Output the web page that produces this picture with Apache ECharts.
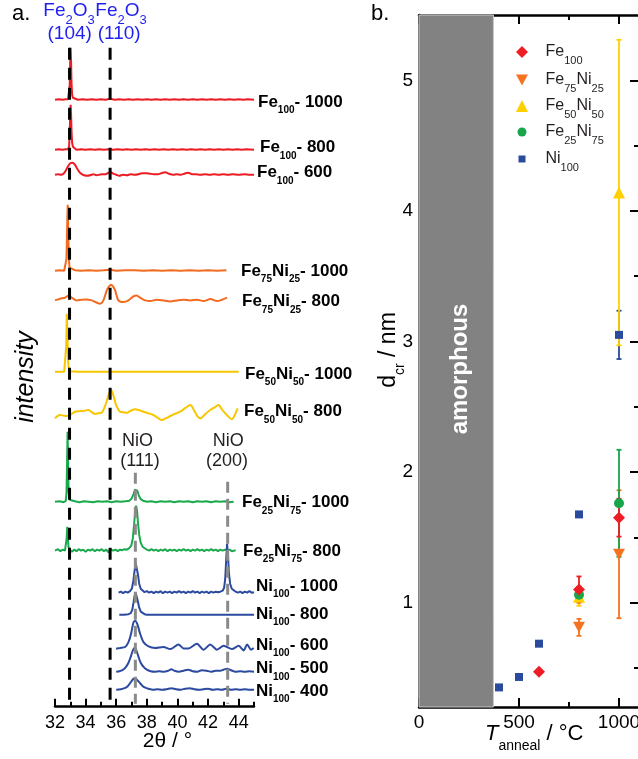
<!DOCTYPE html>
<html>
<head>
<meta charset="utf-8">
<script src="https://cdn.jsdelivr.net/npm/echarts@6/dist/echarts.min.js"></script>
<style>
  html, body { margin: 0; padding: 0; background: #fff; }
  #chart { width: 638px; height: 759px; }
</style>
</head>
<body>
<div id="chart"></div>
<script>
const FONT = '"Liberation Sans", Arial, Helvetica, sans-serif';

// ---------------- Panel a: XRD patterns, [2θ (°), intensity above own baseline] ----------------
const fe100_1000 = [[32.0,0],[32.25,0.5],[32.5,0],[32.7,0.5],[32.85,0.5],[32.92,2],[32.96,14],[32.99,36],[33.02,52],[33.05,38],[33.08,16],[33.12,5],[33.17,2],[33.25,0.5],[33.5,0],[33.8,0.5],[34.1,0],[34.4,0.5],[34.7,0],[35.0,0.5],[35.3,0],[35.6,1],[35.9,0],[36.2,0.5],[36.5,0],[36.8,0.5],[37.1,0],[37.4,0.5],[37.7,0],[38.0,0.5],[38.3,0],[38.6,0.5],[38.9,0],[39.2,0.5],[39.5,0],[39.8,0.5],[40.1,0],[40.4,0.5],[40.7,0],[41.0,0.5],[41.3,0],[41.6,0.5],[41.9,0],[42.2,0.5],[42.5,0],[42.8,0.5],[43.1,0],[43.4,0.5],[43.7,0],[44.0,0.5],[44.3,0],[44.6,0.5],[45.0,0]];
const fe100_800 = [[32.0,0],[32.25,0.5],[32.5,0],[32.7,0.5],[32.85,0.5],[32.92,3],[32.96,16],[32.99,34],[33.02,45],[33.05,36],[33.08,18],[33.12,7],[33.17,3],[33.25,1],[33.4,0],[33.7,0.5],[34.0,0],[34.3,0.5],[34.6,0],[34.9,0.5],[35.2,0],[35.5,0.5],[35.8,0],[36.1,0.5],[36.4,0],[36.7,0.5],[37.0,0],[37.3,0.5],[37.6,0],[37.9,0.5],[38.2,0],[38.5,0.5],[38.8,0],[39.1,0.5],[39.4,0],[39.7,0.5],[40.0,0],[40.3,0.5],[40.6,0],[40.9,0.5],[41.2,0],[41.5,0.5],[41.8,0],[42.1,0.5],[42.4,0],[42.7,0.5],[43.0,0],[43.3,0.5],[43.6,0],[43.9,0.5],[44.2,0],[44.5,0.5],[45.0,0]];
const fe100_600 = [[32.0,0],[32.2,0.5],[32.4,0],[32.55,1],[32.7,4],[32.85,8.5],[33.0,11.5],[33.15,12],[33.3,10],[33.45,6],[33.6,2.5],[33.75,0.5],[33.9,-0.5],[34.1,-1],[34.3,-0.5],[34.5,0.5],[34.7,-0.5],[34.9,0],[35.1,0.5],[35.3,0.5],[35.5,2],[35.65,2.5],[35.8,1],[36.0,0],[36.2,-1],[36.45,0],[36.7,-0.5],[36.95,0.5],[37.2,0],[37.45,0.5],[37.7,1.5],[37.95,1.5],[38.2,1],[38.45,0.5],[38.7,0.5],[38.95,1.5],[39.2,2.5],[39.45,1],[39.7,0],[39.95,0.5],[40.2,0],[40.45,1],[40.7,2],[40.95,0.5],[41.2,0.5],[41.5,0],[41.8,0.5],[42.1,0],[42.4,0.5],[42.7,0],[43.0,0.5],[43.3,0],[43.6,0.5],[44.0,0],[44.4,0.5],[44.7,0],[45.0,0]];
const fe75ni25_1000 = [[32.0,0],[32.3,0.5],[32.6,0],[32.7,1],[32.75,12],[32.79,42],[32.83,66],[32.86,44],[32.9,12],[32.95,3],[33.05,1],[33.3,0.5],[33.7,0],[34.2,0.5],[34.7,0],[35.2,0.5],[35.6,1],[36.0,0],[36.6,0.5],[37.2,0.5],[37.8,0],[38.4,0.5],[39.0,0],[39.6,0.5],[40.2,0],[40.8,0.5],[41.4,0],[42.0,0.5],[42.6,0],[43.2,0.5]];
const fe75ni25_800 = [[32.0,-1.7],[32.33,0],[32.65,1],[32.87,3],[33.09,1],[33.42,-1.7],[33.75,-1],[34.07,-0.7],[34.4,-1.7],[34.73,-4],[34.95,-5],[35.16,-1.7],[35.38,8.3],[35.52,12],[35.66,14],[35.8,12],[35.93,8.3],[36.14,-1.7],[36.47,-3.4],[36.8,-1.7],[37.12,2.3],[37.34,3.3],[37.56,1],[37.89,-1.7],[38.21,-2.4],[38.65,-1],[39.09,-1.7],[39.53,-2.7],[39.97,-1.7],[40.4,-1],[40.84,-1.7],[41.28,-1],[41.71,-2.4],[42.15,-0.4],[42.59,-2.4],[42.91,-1],[43.24,1]];
const fe50ni50_1000 = [[32.0,0],[32.3,0],[32.6,0],[32.68,2],[32.73,25],[32.77,58],[32.81,40],[32.85,12],[32.9,3],[32.97,0.5],[33.1,0],[33.5,0],[34.5,0],[35.5,0],[36.5,0],[37.5,0],[38.5,0],[39.5,0],[40.5,0],[41.5,0],[42.5,0],[43.5,0],[44.0,0]];
const fe50ni50_800 = [[32.0,-1.7],[32.33,1.7],[32.6,1],[32.87,0.7],[33.1,3],[33.31,5],[33.6,5.5],[33.9,6],[34.18,6.7],[34.4,4.5],[34.62,2.7],[34.85,3.5],[35.05,4],[35.2,8],[35.34,13.7],[35.5,22],[35.66,26.7],[35.82,21],[35.99,11.7],[36.25,5],[36.45,4.5],[36.69,4],[36.95,6],[37.24,7.4],[37.5,6.5],[37.78,5],[38.1,3.5],[38.43,1.7],[38.7,-1],[38.98,-3.3],[39.25,-1.5],[39.53,0.7],[39.85,3],[40.18,5],[40.5,8.5],[40.83,11.7],[41.1,6],[41.3,0.5],[41.49,-1.7],[41.8,2.5],[42.14,6.7],[42.45,9.5],[42.69,11.7],[42.85,8.5],[43.02,5],[43.3,0.5],[43.56,-2.6],[43.75,2],[43.93,8.4]];
const fe25ni75_1000 = [[32.0,0],[32.3,0.5],[32.55,-0.5],[32.7,0.5],[32.75,8],[32.79,40],[32.82,70],[32.85,45],[32.89,10],[32.95,2],[33.05,0],[33.3,0.5],[33.6,-0.5],[33.9,0.5],[34.2,0],[34.5,-0.5],[34.8,0.5],[35.1,0],[35.4,0.5],[35.7,-0.5],[36.0,0.5],[36.3,0],[36.6,0.5],[36.85,1],[37.0,3],[37.12,7],[37.22,12],[37.3,14],[37.38,11],[37.48,6],[37.6,2.5],[37.75,1],[38.0,0],[38.3,0.5],[38.6,-0.5],[38.9,0.5],[39.2,0],[39.5,0.5],[39.8,-0.5],[40.1,0.5],[40.4,0],[40.7,0.5],[41.0,-0.5],[41.3,0.5],[41.6,0],[41.9,0.5],[42.2,-0.5],[42.5,0.5],[42.8,0],[43.1,0.5],[43.4,-0.5],[43.67,0]];
const fe25ni75_800 = [[32.0,0],[32.2,1.5],[32.35,-0.5],[32.5,1],[32.65,0],[32.72,2],[32.76,12],[32.8,24],[32.84,14],[32.88,4],[32.95,1],[33.1,-1],[33.25,1],[33.4,-0.5],[33.55,1.5],[33.7,0],[33.85,1],[34.0,-1],[34.15,1],[34.3,0],[34.45,1.5],[34.6,-0.5],[34.75,1],[34.9,0],[35.05,1.5],[35.2,-0.5],[35.35,1],[35.5,-1.5],[35.65,1],[35.8,0],[35.95,1],[36.1,-0.5],[36.25,1],[36.4,0.5],[36.55,1.5],[36.7,1],[36.85,2.5],[36.98,5],[37.08,12],[37.16,25],[37.23,38],[37.3,45],[37.36,40],[37.42,28],[37.5,16],[37.6,8],[37.72,4],[37.85,2],[38.0,1],[38.15,0],[38.3,1.5],[38.45,0],[38.6,1],[38.75,-0.5],[38.9,1],[39.05,0],[39.2,1.5],[39.35,-0.5],[39.5,1],[39.65,0],[39.8,1],[39.95,-0.5],[40.1,1],[40.25,0],[40.4,1.5],[40.55,0],[40.7,1],[40.85,-0.5],[41.0,1],[41.15,0],[41.3,1.5],[41.45,0],[41.6,1],[41.75,-0.5],[41.9,1],[42.05,0],[42.2,1.5],[42.35,0],[42.5,1],[42.65,-0.5],[42.8,1],[42.95,0],[43.1,1],[43.25,0],[43.4,1],[43.55,-0.5],[43.8,0.5]];
const ni100_1000 = [[36.15,0],[36.3,1],[36.45,-0.5],[36.6,1],[36.75,0],[36.9,1.5],[37.02,4],[37.12,12],[37.2,22],[37.28,29],[37.35,27],[37.42,18],[37.5,9],[37.6,4],[37.72,2],[37.85,0.5],[38.0,1.5],[38.15,0],[38.3,1],[38.45,-0.5],[38.6,1],[38.75,0],[38.9,1.5],[39.05,-0.5],[39.2,1],[39.35,0],[39.5,1],[39.65,-0.5],[39.8,1],[39.95,0],[40.1,1.5],[40.25,0],[40.4,1],[40.55,-0.5],[40.7,1],[40.85,0],[41.0,1.5],[41.15,0],[41.3,1],[41.45,-0.5],[41.6,1],[41.75,0],[41.9,1],[42.05,-0.5],[42.2,1],[42.35,0],[42.5,1],[42.65,0.5],[42.8,1],[42.95,2],[43.05,5],[43.12,14],[43.18,32],[43.24,49],[43.3,38],[43.36,20],[43.44,9],[43.55,4],[43.68,2],[43.8,1],[43.95,0],[44.1,1],[44.25,-0.5],[44.4,1],[44.55,0],[44.7,1.5],[44.85,0],[45.0,0.5]];
const ni100_800 = [[36.2,0],[36.5,0],[36.8,0.5],[36.95,1.5],[37.05,5],[37.13,12],[37.2,19],[37.27,22],[37.34,20],[37.42,13],[37.5,7],[37.6,3],[37.72,1.5],[37.85,0.5],[38.0,0],[38.5,0],[39.0,0],[40.0,0],[41.0,0],[42.0,0],[43.0,0],[44.0,0],[45.0,0]];
const ni100_600 = [[35.99,0],[36.25,0.7],[36.58,1.7],[36.8,6.6],[36.97,15],[37.12,26],[37.24,28],[37.39,24],[37.56,15],[37.78,6.6],[38.11,2.3],[38.54,0.7],[39.09,1.7],[39.53,-0.4],[40.07,4.3],[40.4,0.3],[40.72,0.3],[41.27,5],[41.71,-1],[42.14,4.3],[42.58,-1],[43.02,3],[43.56,-0.4],[44.0,3],[44.32,-1.7],[44.55,4.3],[44.8,-1],[44.98,0.7]];
const ni100_500 = [[36.0,0],[36.2,0.5],[36.4,1.5],[36.6,4],[36.8,9],[36.95,15],[37.08,21],[37.2,24],[37.32,21],[37.45,15],[37.6,9],[37.8,4.5],[38.0,2],[38.25,0.5],[38.5,0],[38.8,0.5],[39.1,0],[39.4,1],[39.6,2.5],[39.8,1],[40.1,0],[40.4,1],[40.7,2],[41.0,0.5],[41.3,0],[41.6,1.5],[41.9,1],[42.2,0],[42.5,1],[42.8,1],[43.0,2],[43.25,3],[43.5,1.5],[43.8,0],[44.1,0.5],[44.4,0],[44.7,0.5],[45.0,0]];
const ni100_400 = [[36.0,0],[36.3,0.5],[36.55,1.5],[36.75,3.5],[36.95,7.5],[37.1,10.5],[37.2,11.5],[37.32,10.5],[37.5,7.5],[37.7,4],[37.9,2],[38.1,1],[38.4,0],[38.7,0.5],[39.0,0],[39.3,0.5],[39.6,1.5],[39.9,0.5],[40.2,0],[40.5,1],[40.8,1.5],[41.1,0.5],[41.4,0],[41.7,0.5],[42.0,1],[42.3,0],[42.6,0.5],[42.9,0],[43.2,1],[43.5,0],[43.8,0.5],[44.1,0],[44.4,0.5],[44.7,0],[45.0,0]];

// vertical stacking of the patterns (display units)
const stackOffsets = [607, 557, 532, 436, 408, 335, 290, 205, 156, 114, 92, 58, 35, 17];
const patternData = [fe100_1000, fe100_800, fe100_600, fe75ni25_1000, fe75ni25_800, fe50ni50_1000, fe50ni50_800,
                     fe25ni75_1000, fe25ni75_800, ni100_1000, ni100_800, ni100_600, ni100_500, ni100_400];
// broad, wavy patterns are drawn with light smoothing
const patternSmooth = [0, 0, 0.3, 0, 0.3, 0, 0.35, 0, 0, 0, 0, 0.25, 0.3, 0.3];
const patternLabels = ['{m|Fe}{s|100}{m|- 1000}', '{m|Fe}{s|100}{m|- 800}', '{m|Fe}{s|100}{m|- 600}',
  '{m|Fe}{s|75}{m|Ni}{s|25}{m|- 1000}', '{m|Fe}{s|75}{m|Ni}{s|25}{m|- 800}',
  '{m|Fe}{s|50}{m|Ni}{s|50}{m|- 1000}', '{m|Fe}{s|50}{m|Ni}{s|50}{m|- 800}',
  '{m|Fe}{s|25}{m|Ni}{s|75}{m|- 1000}', '{m|Fe}{s|25}{m|Ni}{s|75}{m|- 800}',
  '{m|Ni}{s|100}{m|- 1000}', '{m|Ni}{s|100}{m|- 800}', '{m|Ni}{s|100}{m|- 600}', '{m|Ni}{s|100}{m|- 500}', '{m|Ni}{s|100}{m|- 400}'];
const COL_A = { fe100: '#ec1c24', fe75: '#f26b21', fe50: '#f7c600', fe25: '#1aaa4d', ni: '#2b4aa0' };
const patternColors = [COL_A.fe100, COL_A.fe100, COL_A.fe100, COL_A.fe75, COL_A.fe75, COL_A.fe50, COL_A.fe50,
                       COL_A.fe25, COL_A.fe25, COL_A.ni, COL_A.ni, COL_A.ni, COL_A.ni, COL_A.ni];
// label anchor (left x, centre y) in pixels
const labelLeft = [258, 260, 257, 241, 242, 245, 244, 242, 243, 256, 256, 256, 256, 256];
const labelMidY = [102, 147.5, 172.5, 271, 301.5, 374, 411.5, 502.5, 551, 586, 614, 645, 668.5, 691];

// reference reflections
const fe2o3Peaks = [32.95, 35.6];
const fe2o3Span = [659, 6];
const nioPeaks = [37.25, 43.28];
const nioTops = [234, 225];
const nioBottom = 3;

// 2θ axis ticks
const thetaMajor = [32, 34, 36, 38, 40, 42, 44];
const thetaMinor = [33, 35, 37, 39, 41, 43, 45];

// ---------------- Panel b: crystallite size vs anneal temperature ----------------
const tFe100 = [600, 800, 1000];
const dFe100 = [0.47, 1.10, 1.65];
const eFe100 = [0, 0.10, 0.145];
const tFe75Ni25 = [800, 1000];
const dFe75Ni25 = [0.81, 1.37];
const eFe75Ni25 = [0.065, 0.49];
const tFe50Ni50 = [800, 1000];
const dFe50Ni50 = [1.045, 4.14];
const eFe50Ni50 = [0.07, 1.17];
const tFe25Ni75 = [800, 1000];
const dFe25Ni75 = [1.06, 1.76];
const eFe25Ni75 = [0.05, 0.41];
const tNi100 = [400, 500, 600, 800, 1000];
const dNi100 = [0.35, 0.43, 0.685, 1.675, 3.05];
const eNi100 = [0, 0, 0, 0, 0.185];
const amorphousRange = [0, 372];

const tempMajor = [0, 500, 1000];
const tempMinor = [250, 750];
const dMajor = [1, 2, 3, 4, 5];
const dMinor = [0.5, 1.5, 2.5, 3.5, 4.5];

const COL_B = { fe100: '#ee1d25', fe75: '#f47320', fe50: '#fed000', fe25: '#18a54b', ni: '#2a4b9d' };
const DOWN_TRIANGLE = 'path://M0,0L12,0L6,11Z';

const chart = echarts.init(document.getElementById('chart'), null, { renderer: 'canvas' });

function tickAxis(base, values, len, withLine, extra) {
  return Object.assign({
    type: 'value',
    axisLine: { show: withLine, onZero: false, lineStyle: { color: '#000', width: 2.5 } },
    axisTick: { show: true, inside: true, length: len, customValues: values, lineStyle: { color: '#000', width: 2 } },
    axisLabel: { show: false },
    splitLine: { show: false },
    minorTick: { show: false },
    minorSplitLine: { show: false }
  }, base, extra || {});
}

const labelStyle = { color: '#000', fontSize: 19, fontFamily: FONT, formatter: v => String(v) };

const xAxes = [
  tickAxis({ gridIndex: 0, min: 32, max: 45, position: 'bottom' }, thetaMajor, 8, true,
    { axisLabel: Object.assign({ show: true, customValues: thetaMajor, margin: 7 }, labelStyle, { fontSize: 18 }) }),
  tickAxis({ gridIndex: 0, min: 32, max: 45, position: 'bottom' }, thetaMinor, 5, false),
  tickAxis({ gridIndex: 1, min: 0, max: 1100, position: 'bottom' }, tempMajor, 9, true,
    { axisLabel: Object.assign({ show: true, customValues: tempMajor, margin: 6 }, labelStyle) }),
  tickAxis({ gridIndex: 1, min: 0, max: 1100, position: 'bottom' }, tempMinor, 5, false),
  tickAxis({ gridIndex: 1, min: 0, max: 1100, position: 'top' }, tempMajor, 9, true),
  tickAxis({ gridIndex: 1, min: 0, max: 1100, position: 'top' }, tempMinor, 5, false)
];
const yAxes = [
  { gridIndex: 0, type: 'value', min: 0, max: 666.7, show: false },
  tickAxis({ gridIndex: 1, min: 0.2, max: 5.5, position: 'left' }, dMajor, 9, true,
    { axisLabel: Object.assign({ show: true, customValues: dMajor, margin: 6 }, labelStyle) }),
  tickAxis({ gridIndex: 1, min: 0.2, max: 5.5, position: 'left' }, dMinor, 5, false),
  tickAxis({ gridIndex: 1, min: 0.2, max: 5.5, position: 'right' }, dMajor, 9, true),
  tickAxis({ gridIndex: 1, min: 0.2, max: 5.5, position: 'right' }, dMinor, 5, false)
];

const series = [];

// XRD patterns
patternData.forEach((arr, i) => {
  series.push({
    type: 'line', xAxisIndex: 0, yAxisIndex: 0, silent: true,
    data: arr.map(p => [p[0], p[1] + stackOffsets[i]]),
    symbol: 'none', showSymbol: false, smooth: patternSmooth[i] || false,
    lineStyle: { color: patternColors[i], width: 2 }, z: 2
  });
});
// Fe2O3 reflections (black dashes)
fe2o3Peaks.forEach(pos => {
  series.push({
    type: 'line', xAxisIndex: 0, yAxisIndex: 0, silent: true,
    data: [[pos, fe2o3Span[0]], [pos, fe2o3Span[1]]],
    symbol: 'none', lineStyle: { color: '#000', width: 3, type: [12, 8] }, z: 4
  });
});
// NiO reflections (grey dashes)
nioPeaks.forEach((pos, i) => {
  series.push({
    type: 'line', xAxisIndex: 0, yAxisIndex: 0, silent: true,
    data: [[pos, nioTops[i]], [pos, nioBottom]],
    symbol: 'none', lineStyle: { color: '#8a8a8a', width: 3, type: [11, 6] }, z: 4
  });
});

function errorBars(name, temps, vals, errs, color) {
  const data = [];
  temps.forEach((t, i) => { if (errs[i] > 0) data.push([t, vals[i] - errs[i], vals[i] + errs[i]]); });
  return {
    type: 'custom', name: name + ' err', xAxisIndex: 2, yAxisIndex: 1, silent: true,
    data: data, encode: { x: 0, y: [1, 2] },
    renderItem: function (params, api) {
      const x = api.value(0);
      const lo = api.coord([x, api.value(1)]);
      const hi = api.coord([x, api.value(2)]);
      const hw = 2.5;
      const st = { stroke: color, lineWidth: 1.8 };
      return {
        type: 'group', children: [
          { type: 'line', shape: { x1: lo[0], y1: lo[1], x2: hi[0], y2: hi[1] }, style: st },
          { type: 'line', shape: { x1: lo[0] - hw, y1: lo[1], x2: lo[0] + hw, y2: lo[1] }, style: st },
          { type: 'line', shape: { x1: hi[0] - hw, y1: hi[1], x2: hi[0] + hw, y2: hi[1] }, style: st }
        ]
      };
    }
  };
}
function points(name, temps, vals, symbol, size, color) {
  return {
    type: 'scatter', name: name, xAxisIndex: 2, yAxisIndex: 1, silent: true,
    data: temps.map((t, i) => [t, vals[i]]),
    symbol: symbol, symbolSize: size,
    itemStyle: { color: color, opacity: 1 }
  };
}

const niPts = points('Ni100', tNi100, dNi100, 'rect', 8, COL_B.ni);
niPts.markArea = {
  silent: true,
  itemStyle: { color: '#828282', borderColor: '#c8c8c8', borderWidth: 1 },
  label: { show: false },
  data: [[{ xAxis: amorphousRange[0] }, { xAxis: amorphousRange[1] }]]
};
series.push(niPts);
series.push(errorBars('Ni100', tNi100, dNi100, eNi100, COL_B.ni));
series.push(errorBars('Fe75Ni25', tFe75Ni25, dFe75Ni25, eFe75Ni25, COL_B.fe75));
series.push(points('Fe75Ni25', tFe75Ni25, dFe75Ni25, DOWN_TRIANGLE, [12, 11], COL_B.fe75));
series.push(errorBars('Fe50Ni50', tFe50Ni50, dFe50Ni50, eFe50Ni50, COL_B.fe50));
series.push(points('Fe50Ni50', tFe50Ni50, dFe50Ni50, 'triangle', 12, COL_B.fe50));
series.push(errorBars('Fe25Ni75', tFe25Ni75, dFe25Ni75, eFe25Ni75, COL_B.fe25));
series.push(points('Fe25Ni75', tFe25Ni75, dFe25Ni75, 'circle', 10, COL_B.fe25));
series.push(errorBars('Fe100', tFe100, dFe100, eFe100, COL_B.fe100));
series.push(points('Fe100', tFe100, dFe100, 'diamond', 12, COL_B.fe100));

// legend (one block per entry so each marker keeps its own size)
const legendNames = ['Fe100', 'Fe75Ni25', 'Fe50Ni50', 'Fe25Ni75', 'Ni100'];
const legendText = {
  Fe100: '{m|Fe}{s|100}', Fe75Ni25: '{m|Fe}{s|75}{m|Ni}{s|25}', Fe50Ni50: '{m|Fe}{s|50}{m|Ni}{s|50}',
  Fe25Ni75: '{m|Fe}{s|25}{m|Ni}{s|75}', Ni100: '{m|Ni}{s|100}'
};
const legendIcons = ['diamond', DOWN_TRIANGLE, 'triangle', 'circle', 'rect'];
const legendRowY = [52, 80, 106, 132, 159];
const legendIconSize = [12, 12, 12, 9, 7];
const legendIconX = 522;
const legendTextX = 545.5;
const legends = legendNames.map((n, i) => {
  const s = legendIconSize[i];
  return {
    data: [{ name: n, icon: legendIcons[i] }], left: legendIconX - s / 2, top: legendRowY[i] - 14, orient: 'vertical',
    itemWidth: s, itemHeight: s, itemGap: 0, padding: 0, selectedMode: false,
    formatter: name => legendText[name],
    textStyle: {
      color: '#231f20', fontSize: 16, fontFamily: FONT,
      padding: [0, 0, 0, legendTextX - (legendIconX + s / 2 + 5)],
      rich: {
        m: { fontSize: 16, lineHeight: 28, color: '#231f20', fontFamily: FONT },
        s: { fontSize: 11, lineHeight: 11, padding: [17, 0, 0, 0], color: '#231f20', fontFamily: FONT }
      }
    }
  };
});

// text
function rt(x, y, text, rich, opts) {
  return Object.assign({
    type: 'text', x: x, y: y, silent: true, z: 10,
    style: Object.assign({ text: text, rich: rich, align: 'left', verticalAlign: 'middle', fontFamily: FONT }, (opts && opts.style) || {})
  }, (opts && opts.el) || {});
}
const boldLabelRich = {
  m: { fontSize: 17, fontWeight: 'bold', lineHeight: 28, fill: '#000', fontFamily: FONT },
  s: { fontSize: 10, fontWeight: 'bold', lineHeight: 11, padding: [17, 0, 0, 0], fill: '#000', fontFamily: FONT }
};
const blueRich = {
  m: { fontSize: 19, lineHeight: 30, fill: '#1f1fef', fontFamily: FONT },
  s: { fontSize: 13, lineHeight: 12, padding: [18, 0, 0, 0], fill: '#1f1fef', fontFamily: FONT }
};
const plainRich = (size, color) => ({ m: { fontSize: size, lineHeight: size + 4, fill: color, fontFamily: FONT } });

const graphics = [];
patternLabels.forEach((t, i) => graphics.push(rt(labelLeft[i], labelMidY[i], t, boldLabelRich)));
graphics.push(rt(12, 14, '{m|a.}', plainRich(22, '#000')));
graphics.push(rt(371, 14, '{m|b.}', plainRich(22, '#000')));
graphics.push(rt(69, 11, '{m|Fe}{s|2}{m|O}{s|3}', blueRich, { style: { align: 'center' } }));
graphics.push(rt(121, 11, '{m|Fe}{s|2}{m|O}{s|3}', blueRich, { style: { align: 'center' } }));
graphics.push(rt(69.7, 33.3, '{m|(104)}', blueRich, { style: { align: 'center' } }));
graphics.push(rt(119.2, 33.3, '{m|(110)}', blueRich, { style: { align: 'center' } }));
graphics.push(rt(137.5, 441.5, '{m|NiO}', plainRich(18, '#231f20'), { style: { align: 'center' } }));
graphics.push(rt(140, 461.5, '{m|(111)}', plainRich(18, '#231f20'), { style: { align: 'center' } }));
graphics.push(rt(228.3, 441.5, '{m|NiO}', plainRich(18, '#231f20'), { style: { align: 'center' } }));
graphics.push(rt(227, 461.5, '{m|(200)}', plainRich(18, '#231f20'), { style: { align: 'center' } }));
graphics.push(rt(167.5, 741.5, '{m|2θ / °}', plainRich(21, '#000'), { style: { align: 'center' } }));
graphics.push(rt(26, 377, '{m|intensity}', { m: { fontSize: 25, fontStyle: 'italic', lineHeight: 28, fill: '#000', fontFamily: FONT } },
  { style: { align: 'center' }, el: { rotation: Math.PI / 2 } }));
graphics.push(rt(460, 369, '{m|amorphous}', { m: { fontSize: 24, fontWeight: 'bold', lineHeight: 28, fill: '#fff', fontFamily: FONT } },
  { style: { align: 'center' }, el: { rotation: Math.PI / 2 } }));
graphics.push(rt(389, 350, '{m|d}{s|cr}{m| / nm}', {
  m: { fontSize: 23, lineHeight: 35, fill: '#000', fontFamily: FONT },
  s: { fontSize: 14, lineHeight: 13, padding: [22, 0, 0, 0], fill: '#000', fontFamily: FONT }
}, { style: { align: 'center' }, el: { rotation: Math.PI / 2 } }));
graphics.push(rt(485, 734, '{i|T}{s|anneal}{m| / °C}', {
  i: { fontSize: 22, fontStyle: 'italic', lineHeight: 39, fill: '#000', fontFamily: FONT },
  m: { fontSize: 22, lineHeight: 39, fill: '#000', fontFamily: FONT },
  s: { fontSize: 14, lineHeight: 14, padding: [25, 0, 0, 0], fill: '#000', fontFamily: FONT }
}));

chart.setOption({
  animation: false,
  backgroundColor: '#fff',
  grid: [
    { left: 55, top: 40, width: 199, height: 666.7, containLabel: false, outerBoundsMode: 'none' },
    { left: 419, top: 15, width: 220, height: 692, containLabel: false, outerBoundsMode: 'none' }
  ],
  xAxis: xAxes,
  yAxis: yAxes,
  legend: legends,
  tooltip: { show: false },
  series: series,
  graphic: graphics
});
</script>
</body>
</html>
